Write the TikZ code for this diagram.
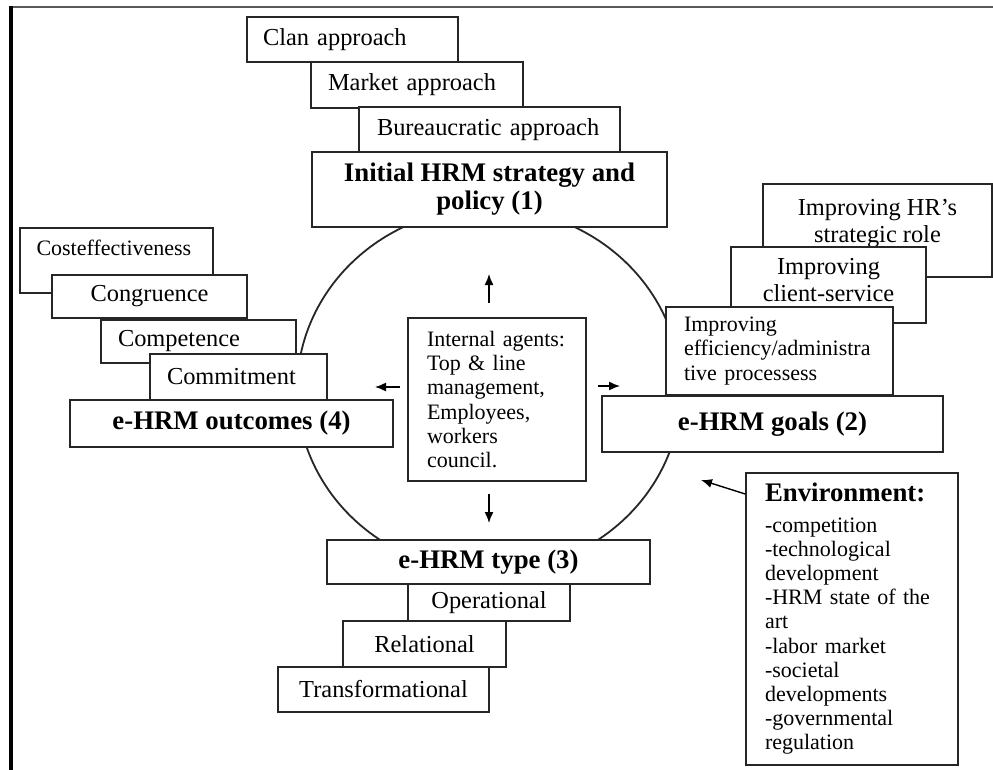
\documentclass[tikz,border=0pt]{standalone}
\usepackage{fontspec}
\setmainfont{Liberation Serif}
\usetikzlibrary{arrows.meta}

\newcommand\lbl{\fontsize{24.4}{27}\selectfont}
\newcommand\sml{\fontsize{22}{24.2}\selectfont}
\newcommand\hdg{\fontsize{26.8}{28}\selectfont\bfseries}

\begin{document}
\begin{tikzpicture}[x=1pt,y=-1pt,
    every node/.style={draw=black!85,line width=1.6pt,fill=white,inner sep=0pt,font=\lbl},
    headbox/.style={font=\hdg,align=center},
    leftbox/.style={align=left},
    flow/.style={line width=1.4pt,-{Latex[length=11pt,width=9pt]}}]
        \useasboundingbox (0,0) rectangle (993,770);
        \draw[line width=2pt,black!65] (10,7) -- (993,7);
        \draw[line width=3.5pt] (11,6) -- (11,770);
        \draw[line width=1.8pt,black!85] (489,390) ellipse [x radius=192pt,y radius=182pt];

        \node[leftbox,minimum height=45pt,text width=179pt,inner xsep=16pt] (clan) at (352.5,39.5) {Clan approach};
        \node[leftbox,minimum height=46pt,text width=178pt,inner xsep=17pt] (market) at (417,85) {Market approach};
        \node[leftbox,minimum height=45pt,text width=225pt,inner xsep=18pt] (bureau) at (489.5,129.5) {Bureaucratic approach};
        \node[headbox,minimum width=355pt,minimum height=75pt] (init) at (489.5,189.5) {Initial HRM strategy and\\ policy (1)};

        \node[leftbox,font=\sml,text width=160pt,inner xsep=16.5pt,text height=27pt,text depth=38pt] (cost) at (116.5,260.5) {Costeffectiveness};
        \node[minimum width=195pt,minimum height=43pt] (cong) at (149.5,296.5) {Congruence};
        \node[leftbox,minimum height=43pt,text width=161pt,inner xsep=17pt] (comp) at (198.5,341.5) {Competence};
        \node[leftbox,minimum height=46pt,text width=143pt,inner xsep=17pt] (commit) at (238.5,377) {Commitment};
        \node[headbox,minimum width=323pt,minimum height=47pt] (outc) at (231.5,423.5) {e-HRM outcomes (4)};

        \node[align=center,minimum width=229pt,text height=58pt,text depth=35pt] (role) at (877.5,230.5) {Improving HR's\\ strategic role};
        \node[align=center,minimum width=195pt,text height=54pt,text depth=22pt] (client) at (828.5,285) {Improving\\ client-service};
        \node[leftbox,font=\sml,minimum height=88pt,text width=191pt,inner xsep=18pt] (effic) at (779.5,351) {Improving\\ efficiency/administra\\ tive processess};
        \node[headbox,minimum width=341pt,minimum height=56pt] (goals) at (772.5,424) {e-HRM goals (2)};

        \node[leftbox,font=\sml,minimum height=163pt,text width=140pt,inner xsep=19pt] (agents) at (497,399.5) {Internal agents:\\ Top \& line\\ management,\\ Employees,\\ workers\\ council.};

        \node[leftbox,font=\sml,minimum height=292pt,text width=174pt,inner xsep=19pt] (env) at (852,619) {{\hdg Environment:}\\[6pt] -competition\\ -technological\\ development\\ -HRM state of the\\ art\\ -labor market\\ -societal\\ developments\\ -governmental\\ regulation};

        \node[headbox,minimum width=323pt,minimum height=44pt] (type) at (488.5,562) {e-HRM type (3)};
        \node[minimum width=162pt,minimum height=37pt] (oper) at (489,602.5) {Operational};
        \node[minimum width=163pt,minimum height=46pt] (relat) at (424.5,644) {Relational};
        \node[minimum width=211pt,minimum height=45pt] (trans) at (383.5,689.5) {Transformational};

        \coordinate (up1) at (489,303);
        \coordinate (up2) at (489,274);
        \coordinate (dn1) at (489,494);
        \coordinate (dn2) at (489,523);
        \coordinate (lf1) at (400,387);
        \coordinate (lf2) at (375,387);
        \coordinate (rt1) at (598,386);
        \coordinate (rt2) at (620,386);
        \coordinate (envtip) at (701,480);
        \draw[flow] (up1) -- (up2);
        \draw[flow] (dn1) -- (dn2);
        \draw[flow] (lf1) -- (lf2);
        \draw[flow] (rt1) -- (rt2);
        \draw[flow] ([yshift=125pt]env.west) -- (envtip);
      \end{tikzpicture}
\end{document}
